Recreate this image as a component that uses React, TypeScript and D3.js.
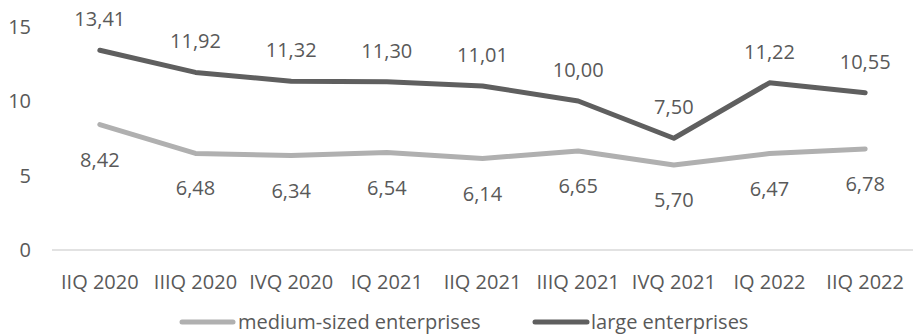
import React from "react";
import * as d3 from "d3";

const categories = ["IIQ 2020", "IIIQ 2020", "IVQ 2020", "IQ 2021", "IIQ 2021", "IIIQ 2021", "IVQ 2021", "IQ 2022", "IIQ 2022"];
const medium = [8.42, 6.48, 6.34, 6.54, 6.14, 6.65, 5.70, 6.47, 6.78];
const large = [13.41, 11.92, 11.32, 11.30, 11.01, 10.00, 7.50, 11.22, 10.55];
const yTicks = [0, 5, 10, 15];
const seriesNames = ["medium-sized enterprises", "large enterprises"];

const W = 913, H = 335;
const FONT = "'Open Sans', sans-serif";
const FS = 20;
const TEXT = "#595959";
const C_MED = "#b0b0b0";
const C_LARGE = "#5f5f5f";

export default function App() {
  const x = d3.scaleBand().domain(categories).range([52, 913]);
  const y = d3.scaleLinear().domain([0, 15]).range([250, 26.5]);
  const cx = (c: string) => (x(c) as number) + x.bandwidth() / 2;
  const line = d3.line<number>().x((_, i) => cx(categories[i])).y((d) => y(d));
  const fmt = (v: number) => v.toFixed(2).replace(".", ",");
  const LY = 322;
  return (
    <svg width={W} height={H} style={{ position: "absolute", left: 0, top: 0, background: "#fff" }}>
      <line x1={52} x2={913} y1={y(0)} y2={y(0)} stroke="#d9d9d9" strokeWidth={1.5} />
      {yTicks.map((t) => (
        <text key={t} x={31} y={y(t)} dy="0.35em" textAnchor="end" fontFamily={FONT} fontSize={FS} fill={TEXT}>{t}</text>
      ))}
      {categories.map((c) => (
        <text key={c} x={cx(c)} y={282} dy="0.35em" textAnchor="middle" fontFamily={FONT} fontSize={FS} fill={TEXT}>{c}</text>
      ))}
      <path d={line(medium) || ""} fill="none" stroke={C_MED} strokeWidth={5} strokeLinecap="round" strokeLinejoin="round" />
      <path d={line(large) || ""} fill="none" stroke={C_LARGE} strokeWidth={5} strokeLinecap="round" strokeLinejoin="round" />
      {medium.map((v, i) => (
        <text key={"m" + i} x={cx(categories[i])} y={y(v) + 35} dy="0.35em" textAnchor="middle" fontFamily={FONT} fontSize={FS} fill={TEXT}>{fmt(v)}</text>
      ))}
      {large.map((v, i) => (
        <text key={"l" + i} x={cx(categories[i])} y={y(v) - 31} dy="0.35em" textAnchor="middle" fontFamily={FONT} fontSize={FS} fill={TEXT}>{fmt(v)}</text>
      ))}
      <line x1={182} x2={233} y1={LY} y2={LY} stroke={C_MED} strokeWidth={5} strokeLinecap="round" />
      <text x={238} y={LY} dy="0.35em" fontFamily={FONT} fontSize={FS} fill={TEXT}>{seriesNames[0]}</text>
      <line x1={535} x2={587} y1={LY} y2={LY} stroke={C_LARGE} strokeWidth={5} strokeLinecap="round" />
      <text x={591} y={LY} dy="0.35em" fontFamily={FONT} fontSize={FS} fill={TEXT}>{seriesNames[1]}</text>
    </svg>
  );
}
